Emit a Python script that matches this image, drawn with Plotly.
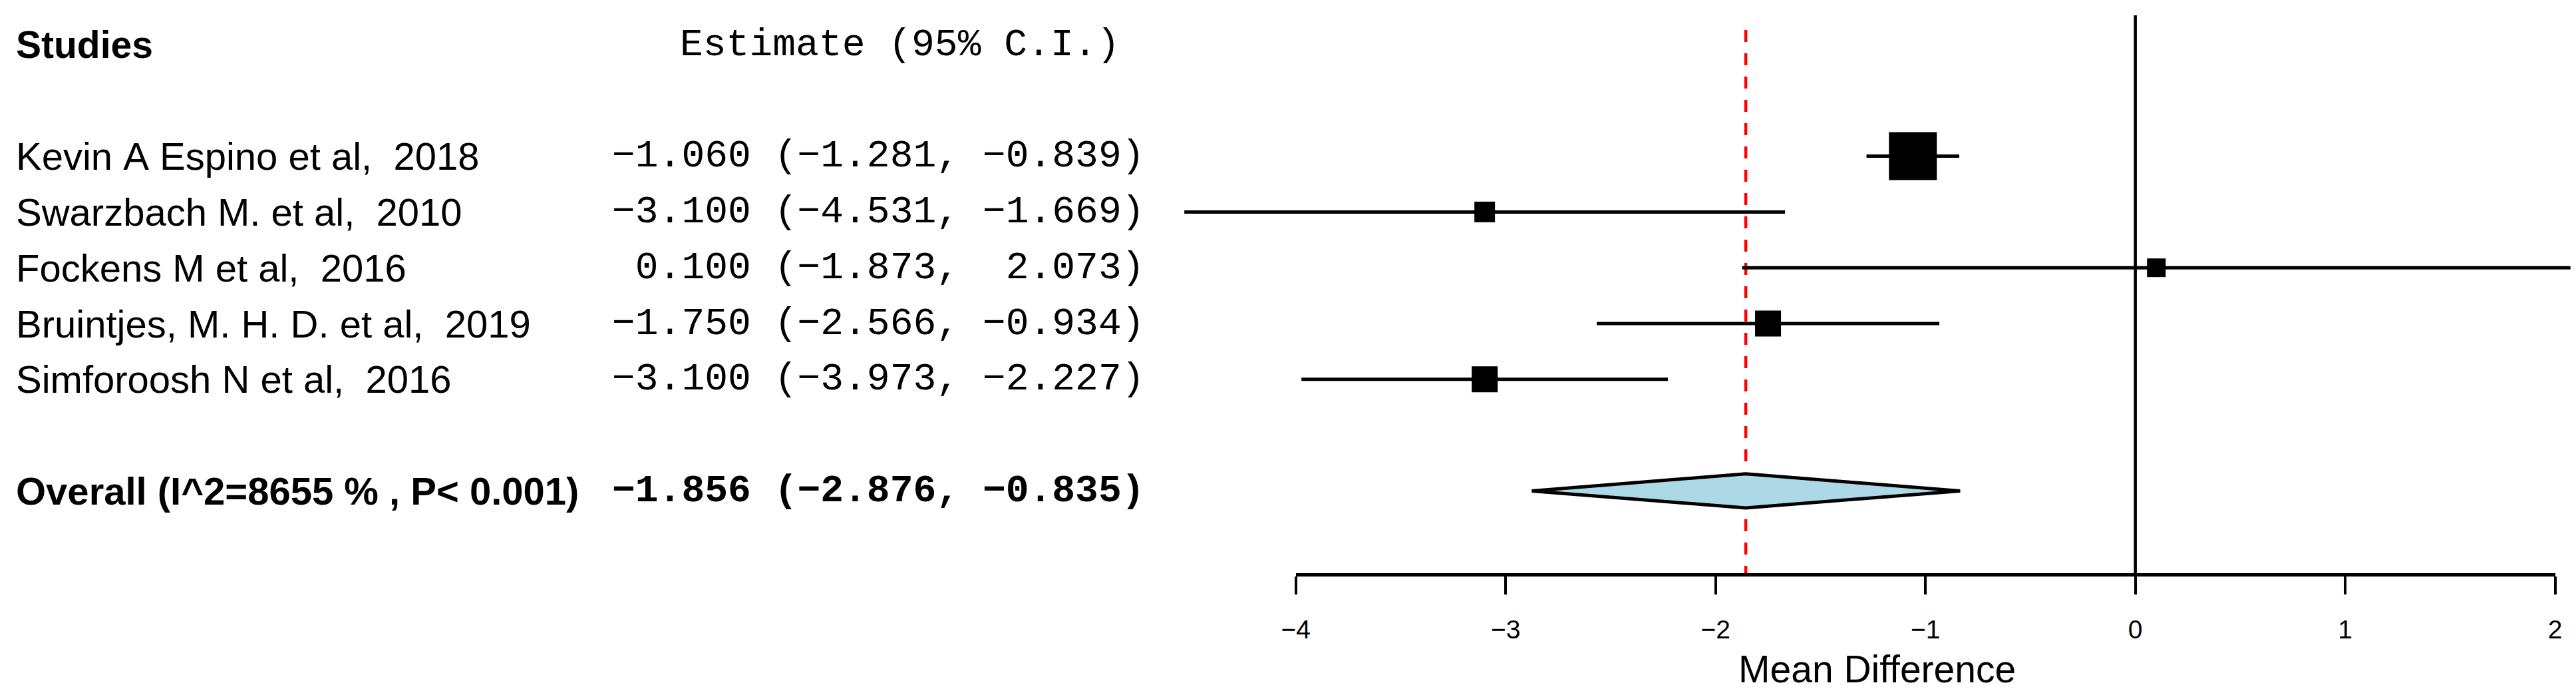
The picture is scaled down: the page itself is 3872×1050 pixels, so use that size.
import plotly.graph_objects as go

# ---------------- data ----------------
studies = [
    "Kevin A Espino et al,  2018",
    "Swarzbach M. et al,  2010",
    "Fockens M et al,  2016",
    "Bruintjes, M. H. D. et al,  2019",
    "Simforoosh N et al,  2016",
]
estimates = [-1.060, -3.100, 0.100, -1.750, -3.100]
ci_lower = [-1.281, -4.531, -1.873, -2.566, -3.973]
ci_upper = [-0.839, -1.669, 2.073, -0.934, -2.227]

overall_label = "Overall (I^2=8655 % , P< 0.001)"
overall_est = -1.856
overall_lower = -2.876
overall_upper = -0.835

x_ticks = [-4, -3, -2, -1, 0, 1, 2]
header_left = "Studies"
header_mid = "Estimate (95% C.I.)"
x_title = "Mean Difference"

# ---------------- style / layout constants ----------------
W, H = 3872, 1050
OFF = 8                                 # page body margin compensation
box_px = [72, 31, 28, 39, 39]          # square sizes (study weights)
ppu = 318.2                             # pixels per unit on x
zero_px = 3215.0 - OFF                  # pixel position of x = 0
row0_px = 234.6 - OFF                   # pixel position of first study row
row_px = 83.8                           # pixels per row
axis_px = 863 - OFF
SANS = "Liberation Sans, Arial, Helvetica, sans-serif"
MONO = "Liberation Mono, Courier New, monospace"
NB = "\u00a0"

x_range = [-zero_px / ppu, (W - zero_px) / ppu]
y_range = [(H - row0_px) / row_px, -row0_px / row_px]
axis_row = (axis_px - row0_px) / row_px
zero_top = (23 - OFF - row0_px) / row_px
red_top = (45 - OFF - row0_px) / row_px
overall_row = len(studies) + 1
header_row = -2
diamond_half = 0.305

d0 = (zero_px + x_ticks[0] * ppu) / W
d1 = (zero_px + x_ticks[-1] * ppu) / W
axis_pos = (H - axis_px) / H

sans_x = -8 / W
mono_x = 896 / W
head_x = 999 / W


def fmt(v):
    return f"{v:6.3f}".replace("-", "\u2212")


def ci_text(e, lo, hi):
    return (fmt(e) + " (" + fmt(lo) + ", " + fmt(hi) + ")").replace(" ", NB)


fig = go.Figure()

# red dashed overall line
fig.add_trace(go.Scatter(
    x=[overall_est, overall_est], y=[red_top, axis_row], mode="lines",
    line=dict(color="red", width=4.5, dash="18px,17px"),
    hoverinfo="skip", showlegend=False))

# zero line
fig.add_trace(go.Scatter(
    x=[0, 0], y=[zero_top, axis_row], mode="lines",
    line=dict(color="black", width=4.5),
    hoverinfo="skip", showlegend=False))

# CI lines
for i, (lo, hi) in enumerate(zip(ci_lower, ci_upper)):
    fig.add_trace(go.Scatter(
        x=[lo, hi], y=[i, i], mode="lines",
        line=dict(color="black", width=5),
        hoverinfo="skip", showlegend=False))

# squares
fig.add_trace(go.Scatter(
    x=estimates, y=list(range(len(studies))), mode="markers",
    marker=dict(symbol="square", size=box_px, color="black", opacity=1,
                line=dict(width=0)),
    hoverinfo="skip", showlegend=False))

# overall diamond
fig.add_trace(go.Scatter(
    x=[overall_lower, overall_est, overall_upper, overall_est, overall_lower],
    y=[overall_row, overall_row - diamond_half, overall_row,
       overall_row + diamond_half, overall_row],
    mode="lines", fill="toself", fillcolor="#ADD8E6",
    line=dict(color="black", width=5),
    hoverinfo="skip", showlegend=False))

# invisible trace to carry the drawn x axis
fig.add_trace(go.Scatter(
    x=x_ticks, y=[axis_row] * len(x_ticks), xaxis="x2", yaxis="y",
    mode="markers", marker=dict(opacity=0), hoverinfo="skip", showlegend=False))

annotations = []
# header
annotations.append(dict(x=sans_x, xref="paper", y=header_row, yref="y",
                        text="<b>" + header_left + "</b>", showarrow=False,
                        xanchor="left", yanchor="middle",
                        font=dict(family=SANS, size=57, color="black")))
annotations.append(dict(x=head_x, xref="paper", y=header_row, yref="y",
                        text=header_mid.replace(" ", NB), showarrow=False,
                        xanchor="left", yanchor="middle",
                        font=dict(family=MONO, size=58, color="black")))
# rows
for i, (s, e, lo, hi) in enumerate(zip(studies, estimates, ci_lower, ci_upper)):
    annotations.append(dict(x=sans_x, xref="paper", y=i, yref="y",
                            text=s.replace(" ", NB), showarrow=False,
                            xanchor="left", yanchor="middle",
                            font=dict(family=SANS, size=58, color="black")))
    annotations.append(dict(x=mono_x, xref="paper", y=i, yref="y",
                            text=ci_text(e, lo, hi), showarrow=False,
                            xanchor="left", yanchor="middle",
                            font=dict(family=MONO, size=58, color="black")))
# overall
annotations.append(dict(x=sans_x, xref="paper", y=overall_row, yref="y",
                        text="<b>" + overall_label.replace(" ", NB) + "</b>",
                        showarrow=False, xanchor="left", yanchor="middle",
                        font=dict(family=SANS, size=58, color="black")))
annotations.append(dict(x=mono_x, xref="paper", y=overall_row, yref="y",
                        text="<b>" + ci_text(overall_est, overall_lower, overall_upper) + "</b>",
                        showarrow=False, xanchor="left", yanchor="middle",
                        font=dict(family=MONO, size=58, color="black")))
# x title centred on the data extent
xlim_mid = (min(ci_lower) + max(ci_upper)) / 2
annotations.append(dict(x=xlim_mid, xref="x", y=1 - (1005 - OFF) / H, yref="paper",
                        text=x_title, showarrow=False,
                        xanchor="center", yanchor="middle",
                        font=dict(family=SANS, size=57, color="black")))

fig.update_layout(
    width=W, height=H,
    margin=dict(l=0, r=0, t=0, b=0, pad=0),
    paper_bgcolor="white", plot_bgcolor="rgba(0,0,0,0)",
    showlegend=False,
    xaxis=dict(domain=[0, 1], range=x_range, visible=False, fixedrange=True),
    yaxis=dict(domain=[0, 1], range=y_range, visible=False, fixedrange=True),
    xaxis2=dict(domain=[d0, d1], range=[x_ticks[0], x_ticks[-1]],
                anchor="free", position=axis_pos, side="bottom",
                showline=True, linecolor="black", linewidth=5,
                ticks="outside", ticklen=27, tickwidth=4, tickcolor="black",
                ticklabelstandoff=19,
                tickvals=x_ticks, showgrid=False, zeroline=False,
                tickfont=dict(family=SANS, size=39, color="black"),
                fixedrange=True),
    annotations=annotations,
)

fig.write_html("out.html")
